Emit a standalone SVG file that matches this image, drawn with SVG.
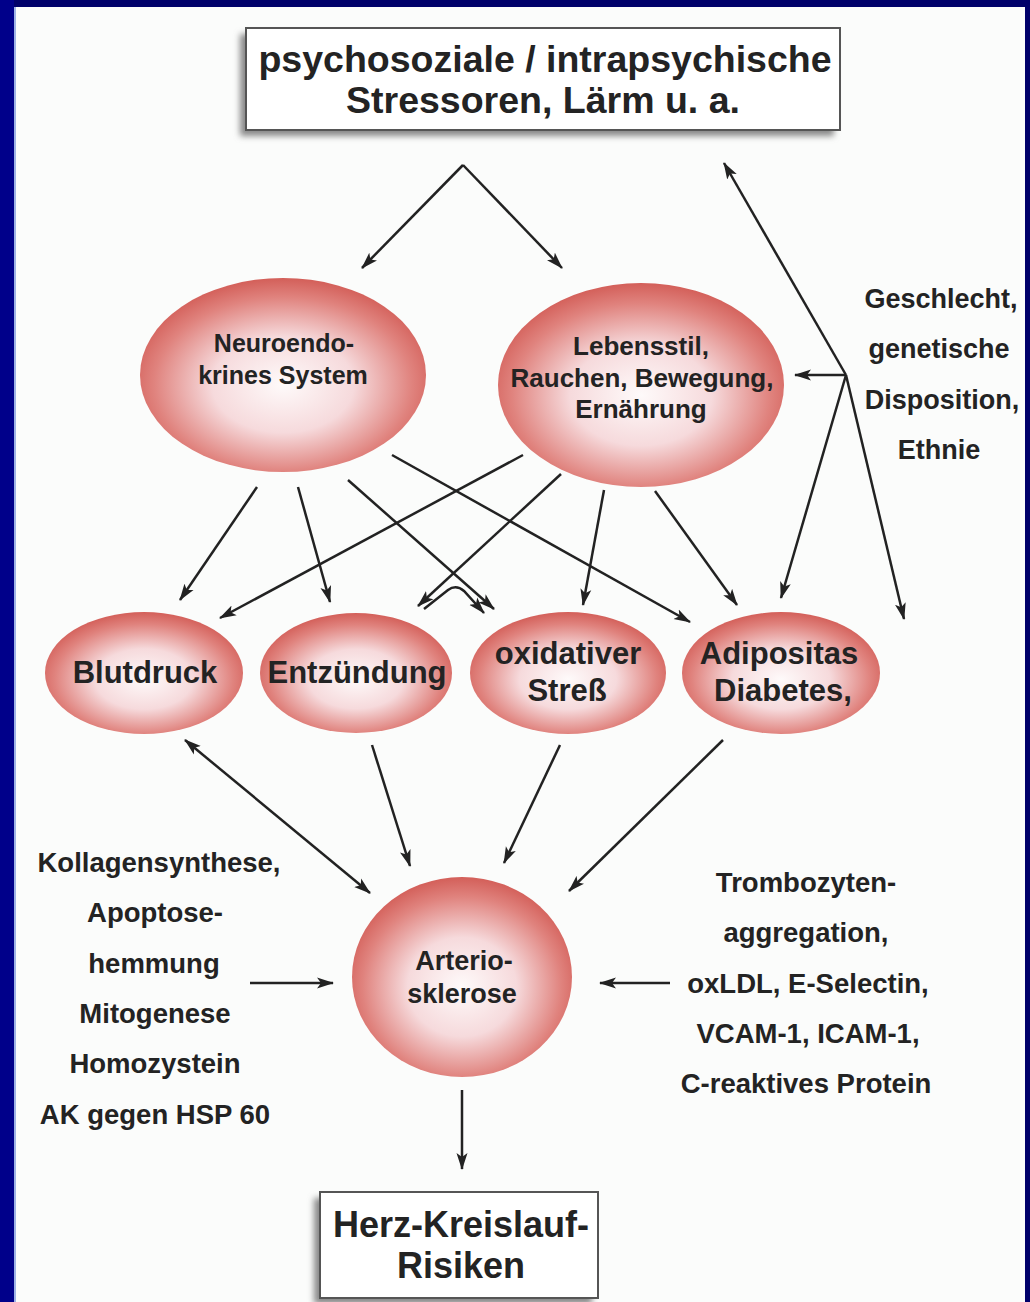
<svg xmlns="http://www.w3.org/2000/svg" width="1030" height="1302" viewBox="0 0 1030 1302">
<style>
.t{font-family:"Liberation Sans",Arial,sans-serif;font-weight:bold;fill:#232323;text-anchor:middle}
.ln{stroke:#222;stroke-width:2.5;fill:none}
.box{fill:#fff;stroke:#555;stroke-width:2}
</style>
<defs>
<radialGradient id="rg" cx="0.5" cy="0.55" r="0.55">
<stop offset="0" stop-color="#fefafa"/>
<stop offset="0.45" stop-color="#f6dadc"/>
<stop offset="0.82" stop-color="#e0837e"/>
<stop offset="1" stop-color="#d35f59"/>
</radialGradient>
<filter id="sh" x="-10%" y="-20%" width="120%" height="150%">
<feGaussianBlur stdDeviation="3"/>
</filter>
<marker id="ah" markerUnits="userSpaceOnUse" markerWidth="18" markerHeight="12" refX="16" refY="6" orient="auto-start-reverse">
<path d="M0,0.5 L17,6 L0,11.5 L4,6 z" fill="#222"/>
</marker>
</defs>
<rect x="0" y="0" width="1030" height="1302" fill="#fbfcfb"/>
<rect x="0" y="0" width="1030" height="7" fill="#00006a"/>
<rect x="0" y="0" width="14" height="1302" fill="#00008a"/>
<rect x="14" y="7" width="2" height="1295" fill="#9fb3e6"/>
<rect x="1025" y="0" width="5" height="1302" fill="#00006a"/>

<g id="connectors">
<line class="ln" x1="463" y1="165" x2="362" y2="268" marker-end="url(#ah)"/>
<line class="ln" x1="463" y1="165" x2="562" y2="268" marker-end="url(#ah)"/>
<line class="ln" x1="846" y1="375" x2="724" y2="163" marker-end="url(#ah)"/>
<line class="ln" x1="846" y1="375" x2="795" y2="375" marker-end="url(#ah)"/>
<line class="ln" x1="846" y1="375" x2="781" y2="598" marker-end="url(#ah)"/>
<line class="ln" x1="846" y1="375" x2="904" y2="619" marker-end="url(#ah)"/>
<line class="ln" x1="257" y1="487" x2="180" y2="600" marker-end="url(#ah)"/>
<line class="ln" x1="298" y1="487" x2="330" y2="602" marker-end="url(#ah)"/>
<line class="ln" x1="348" y1="480" x2="494" y2="609" marker-end="url(#ah)"/>
<line class="ln" x1="392" y1="455" x2="690" y2="622" marker-end="url(#ah)"/>
<line class="ln" x1="523" y1="455" x2="220" y2="618" marker-end="url(#ah)"/>
<line class="ln" x1="561" y1="474" x2="418" y2="606" marker-end="url(#ah)"/>
<line class="ln" x1="604" y1="490" x2="583" y2="605" marker-end="url(#ah)"/>
<line class="ln" x1="655" y1="491" x2="737" y2="605" marker-end="url(#ah)"/>
<path class="ln" d="M424,609 L448,590 Q456,584 464,591 L484,613" marker-end="url(#ah)"/>
<line class="ln" x1="185" y1="740" x2="370" y2="893" marker-start="url(#ah)" marker-end="url(#ah)"/>
<line class="ln" x1="372" y1="745" x2="410" y2="866" marker-end="url(#ah)"/>
<line class="ln" x1="560" y1="745" x2="504" y2="863" marker-end="url(#ah)"/>
<line class="ln" x1="723" y1="740" x2="569" y2="891" marker-end="url(#ah)"/>
<line class="ln" x1="250" y1="983" x2="333" y2="983" marker-end="url(#ah)"/>
<line class="ln" x1="670" y1="983" x2="600" y2="983" marker-end="url(#ah)"/>
<line class="ln" x1="462" y1="1090" x2="462" y2="1169" stroke-width="3" marker-end="url(#ah)"/>
</g>

<g id="stressoren">
<rect x="240" y="34" width="594" height="102" fill="#888" filter="url(#sh)"/>
<rect class="box" x="246" y="28" width="594" height="102"/>
<text class="t" x="545" y="72" font-size="37.5">psychosoziale / intrapsychische</text>
<text class="t" x="543" y="113" font-size="37.5">Stressoren, Lärm u. a.</text>
</g>

<g id="neuro">
<ellipse cx="283" cy="375" rx="143" ry="97" fill="url(#rg)"/>
<text class="t" x="284" y="352" font-size="25">Neuroendo-</text>
<text class="t" x="283" y="384" font-size="25">krines System</text>
</g>

<g id="lebensstil">
<ellipse cx="641" cy="385" rx="143" ry="102" fill="url(#rg)"/>
<text class="t" x="641" y="355" font-size="26">Lebensstil,</text>
<text class="t" x="642" y="387" font-size="26">Rauchen, Bewegung,</text>
<text class="t" x="641" y="418" font-size="26">Ernährung</text>
</g>

<g id="faktoren">
<text class="t" x="941" y="308" font-size="27">Geschlecht,</text>
<text class="t" x="939" y="358" font-size="27">genetische</text>
<text class="t" x="942" y="409" font-size="27">Disposition,</text>
<text class="t" x="939" y="459" font-size="27">Ethnie</text>
</g>

<g id="blutdruck">
<ellipse cx="144" cy="673" rx="99" ry="61" fill="url(#rg)"/>
<text class="t" x="145" y="683" font-size="31">Blutdruck</text>
</g>
<g id="entzuendung">
<ellipse cx="356" cy="673" rx="96" ry="60" fill="url(#rg)"/>
<text class="t" x="357" y="683" font-size="31">Entzündung</text>
</g>
<g id="oxidativ">
<ellipse cx="568" cy="673" rx="98" ry="61" fill="url(#rg)"/>
<text class="t" x="568" y="664" font-size="31">oxidativer</text>
<text class="t" x="567" y="701" font-size="31">Streß</text>
</g>
<g id="adipositas">
<ellipse cx="781" cy="673" rx="99" ry="61" fill="url(#rg)"/>
<text class="t" x="779" y="664" font-size="31">Adipositas</text>
<text class="t" x="783" y="701" font-size="31">Diabetes,</text>
</g>

<g id="arteriosklerose">
<ellipse cx="462" cy="977" rx="110" ry="100" fill="url(#rg)"/>
<text class="t" x="464" y="970" font-size="27">Arterio-</text>
<text class="t" x="462" y="1003" font-size="27">sklerose</text>
</g>

<g id="links">
<text class="t" x="159" y="872" font-size="27.5">Kollagensynthese,</text>
<text class="t" x="155" y="922" font-size="27.5">Apoptose-</text>
<text class="t" x="154" y="973" font-size="27.5">hemmung</text>
<text class="t" x="155" y="1023" font-size="27.5">Mitogenese</text>
<text class="t" x="155" y="1073" font-size="27.5">Homozystein</text>
<text class="t" x="155" y="1124" font-size="27.5">AK gegen HSP 60</text>
</g>

<g id="rechts">
<text class="t" x="806" y="892" font-size="27.5">Trombozyten-</text>
<text class="t" x="806" y="942" font-size="27.5">aggregation,</text>
<text class="t" x="808" y="993" font-size="27.5">oxLDL, E-Selectin,</text>
<text class="t" x="808" y="1043" font-size="27.5">VCAM-1, ICAM-1,</text>
<text class="t" x="806" y="1093" font-size="27.5">C-reaktives Protein</text>
</g>

<g id="risiken">
<rect x="314" y="1198" width="278" height="106" fill="#888" filter="url(#sh)"/>
<rect class="box" x="320" y="1192" width="278" height="106"/>
<text class="t" x="461" y="1237" font-size="36">Herz-Kreislauf-</text>
<text class="t" x="461" y="1278" font-size="36">Risiken</text>
</g>
</svg>
